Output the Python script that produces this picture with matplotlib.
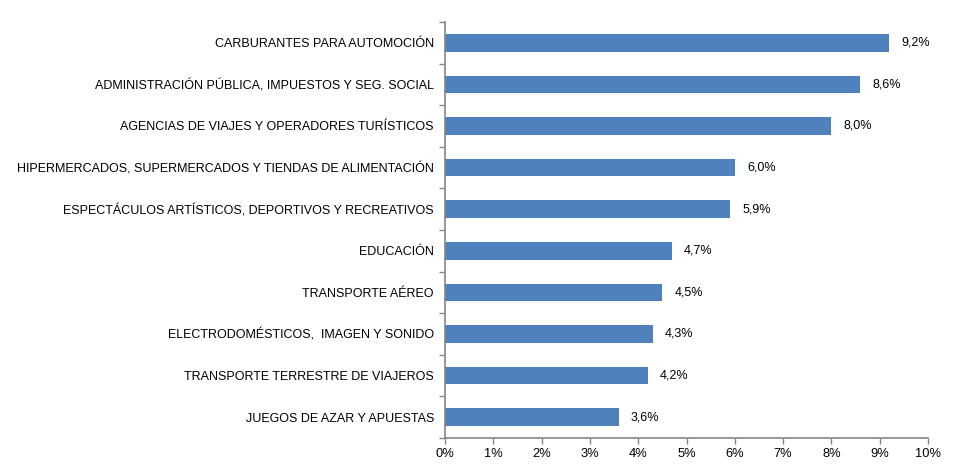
import matplotlib
matplotlib.use("Agg")
import matplotlib.pyplot as plt
import numpy as np

categories = [
    "CARBURANTES PARA AUTOMOCIÓN",
    "ADMINISTRACIÓN PÚBLICA, IMPUESTOS Y SEG. SOCIAL",
    "AGENCIAS DE VIAJES Y OPERADORES TURÍSTICOS",
    "HIPERMERCADOS, SUPERMERCADOS Y TIENDAS DE ALIMENTACIÓN",
    "ESPECTÁCULOS ARTÍSTICOS, DEPORTIVOS Y RECREATIVOS",
    "EDUCACIÓN",
    "TRANSPORTE AÉREO",
    "ELECTRODOMÉSTICOS,  IMAGEN Y SONIDO",
    "TRANSPORTE TERRESTRE DE VIAJEROS",
    "JUEGOS DE AZAR Y APUESTAS",
]
values = [9.2, 8.6, 8.0, 6.0, 5.9, 4.7, 4.5, 4.3, 4.2, 3.6]
xticks = [0, 1, 2, 3, 4, 5, 6, 7, 8, 9, 10]
xticklabels = ["0%", "1%", "2%", "3%", "4%", "5%", "6%", "7%", "8%", "9%", "10%"]

plt.rcParams['font.family'] = ['Liberation Sans', 'DejaVu Sans']

fig = plt.figure(figsize=(9.63, 4.72), dpi=100)
ax = fig.add_axes([445/963, 1 - 438/472, (928 - 445)/963, (438 - 22)/472])

n = len(categories)
y = np.arange(n)[::-1]
ax.barh(y, values, height=0.42, color="#4F81BD", zorder=2)

for yi, v in zip(y, values):
    ax.text(v + 0.25, yi, f"{v:.1f}%".replace(".", ","), va="center", ha="left",
            fontsize=9, color="#000000")

ax.set_xlim(0, 10)
ax.set_ylim(-0.5, n - 0.5)
ax.set_xticks(xticks)
ax.set_xticklabels(xticklabels, fontsize=9.3)
ax.set_yticks(y)
ax.set_yticklabels(categories, fontsize=9)
ax.set_yticks(np.arange(-0.5, n, 1.0), minor=True)

ax.tick_params(axis="y", which="major", length=0, pad=8)
ax.tick_params(axis="y", which="minor", length=4, width=1, color="#868686", direction="out")
ax.tick_params(axis="x", which="major", length=4, width=1, color="#868686", direction="out", pad=3)

for s in ["top", "right"]:
    ax.spines[s].set_visible(False)
for s in ["left", "bottom"]:
    ax.spines[s].set_color("#868686")
    ax.spines[s].set_linewidth(1.2)

fig.savefig("out.png", dpi=100)
